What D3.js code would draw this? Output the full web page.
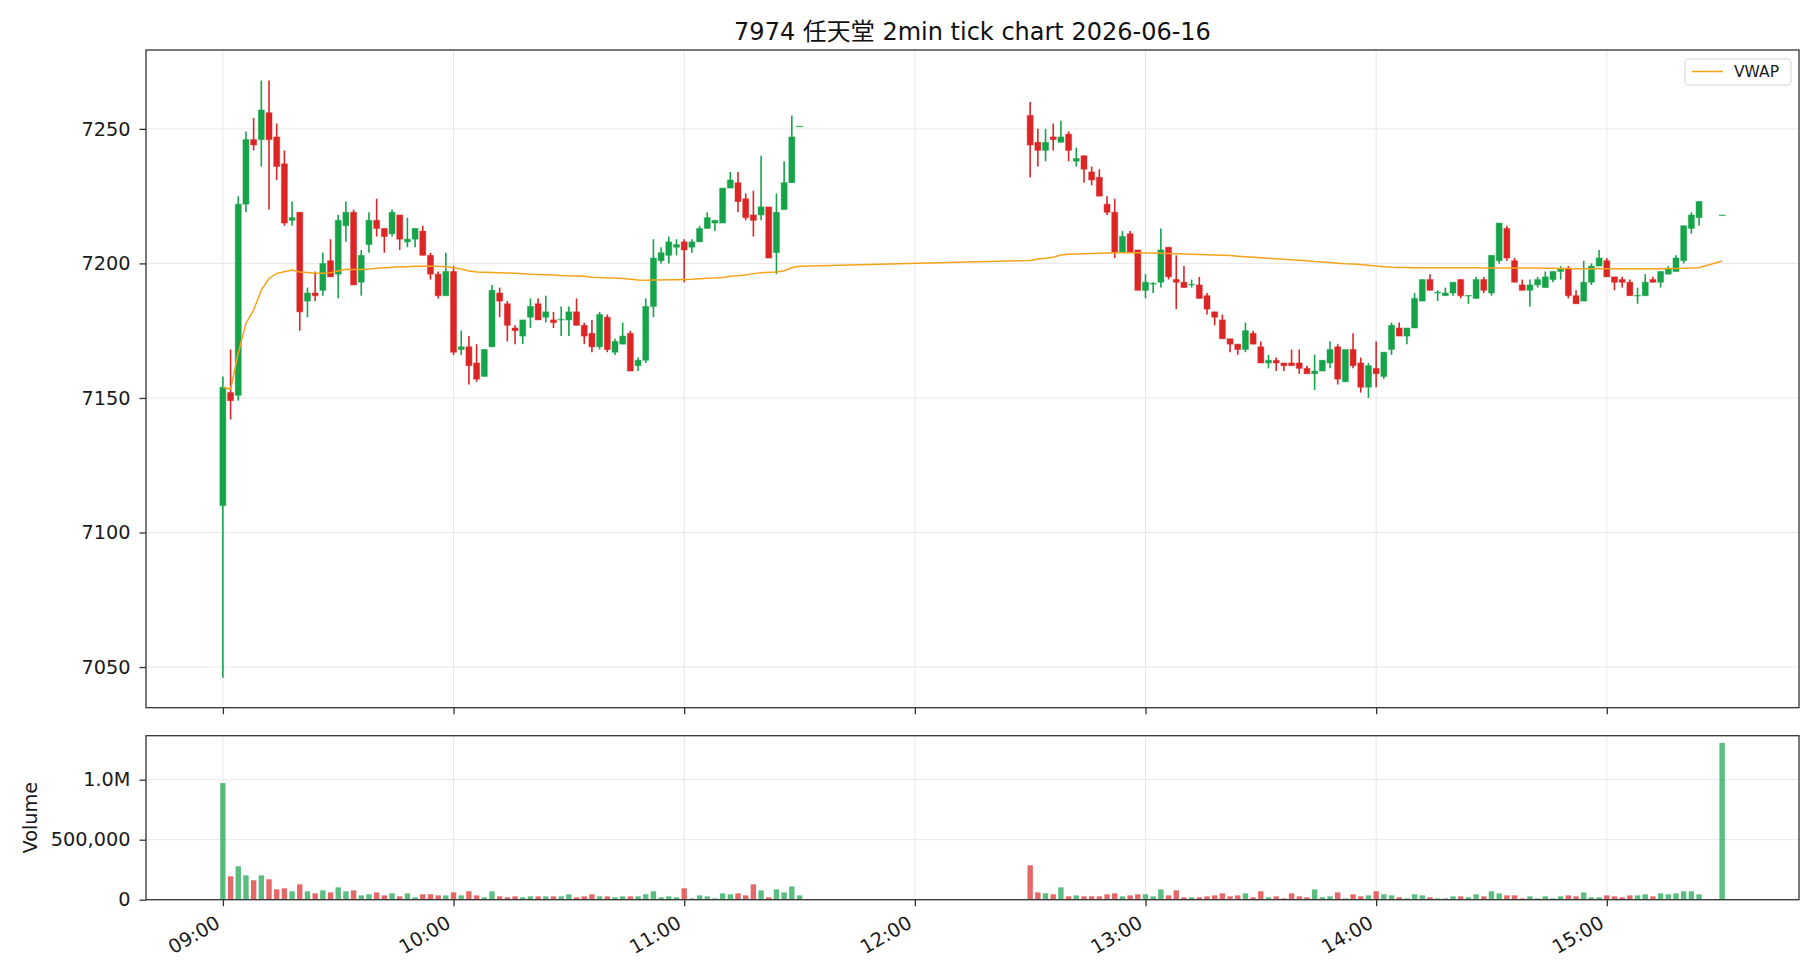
<!DOCTYPE html>
<html><head><meta charset="utf-8">
<script src="https://cdn.jsdelivr.net/npm/d3@7/dist/d3.min.js"></script>
<style>body{margin:0;background:#fff}svg{display:block}</style>
</head><body>
<script>
// ---------------- DATA ----------------
const titleText = "7974 任天堂 2min tick chart 2026-06-16";
const times = [
"09:00","09:02","09:04","09:06","09:08","09:10","09:12","09:14","09:16","09:18",
"09:20","09:22","09:24","09:26","09:28","09:30","09:32","09:34","09:36","09:38",
"09:40","09:42","09:44","09:46","09:48","09:50","09:52","09:54","09:56","09:58",
"10:00","10:02","10:04","10:06","10:08","10:10","10:12","10:14","10:16","10:18",
"10:20","10:22","10:24","10:26","10:28","10:30","10:32","10:34","10:36","10:38",
"10:40","10:42","10:44","10:46","10:48","10:50","10:52","10:54","10:56","10:58",
"11:00","11:02","11:04","11:06","11:08","11:10","11:12","11:14","11:16","11:18",
"11:20","11:22","11:24","11:26","11:28","11:30",
"12:30","12:32","12:34","12:36","12:38","12:40","12:42","12:44","12:46","12:48",
"12:50","12:52","12:54","12:56","12:58","13:00","13:02","13:04","13:06","13:08",
"13:10","13:12","13:14","13:16","13:18","13:20","13:22","13:24","13:26","13:28",
"13:30","13:32","13:34","13:36","13:38","13:40","13:42","13:44","13:46","13:48",
"13:50","13:52","13:54","13:56","13:58","14:00","14:02","14:04","14:06","14:08",
"14:10","14:12","14:14","14:16","14:18","14:20","14:22","14:24","14:26","14:28",
"14:30","14:32","14:34","14:36","14:38","14:40","14:42","14:44","14:46","14:48",
"14:50","14:52","14:54","14:56","14:58","15:00","15:02","15:04","15:06","15:08",
"15:10","15:12","15:14","15:16","15:18","15:20","15:22","15:24","15:30"];

const opens = [
7110,7152,7151,7222,7246,7246,7256,7247,7237,7216,
7219,7186,7189,7190,7201,7196,7214,7219,7193,7207,
7216,7213,7211,7218,7208,7209,7212,7203,7196,7188,
7197,7168,7169,7163,7158,7169,7189,7185,7176,7173,
7180,7185,7180,7179,7179,7179,7182,7177,7174,7169,
7180,7167,7170,7174,7162,7164,7184,7201,7203,7206,
7208,7206,7208,7213,7215,7215,7228,7230,7224,7218,
7218,7221,7204,7220,7230,7251,
7255,7245,7242,7247,7245,7248,7238,7240,7234,7232,
7222,7219,7204,7211,7205,7190,7192.3,7193,7206,7194,
7193,7192,7192,7188,7182,7179,7172,7170,7168,7174,
7169,7163,7164,7163,7163,7163,7161,7159,7160,7163,
7169,7156,7168,7163,7154,7161,7158,7168,7176,7173,
7176,7186,7194,7189,7188,7189,7194,7187.9,7187,7194,
7189,7201,7213,7201,7192,7190,7192,7191,7194,7197,
7198,7188,7186,7193,7199,7201,7195,7194,7193,7187.9,
7188,7194,7193,7196,7197,7201,7213,7217,7218];

const highs = [
7158,7168,7225,7249,7254,7268,7268,7252,7242,7223,
7219,7191,7197,7204,7209,7218,7223,7220,7205,7219,
7224,7213,7220,7218,7217,7213,7214,7204,7197,7204,
7199,7175,7173,7170,7168,7192,7191,7186,7177,7179,
7187,7187,7188,7182,7184,7184,7187,7178,7179,7182,
7181,7172,7178,7175,7165,7187,7209,7206,7210,7209,
7209,7209,7214,7219,7216,7228,7234,7234,7226,7227,
7240,7221,7226,7238,7255,7251,
7260,7250,7250,7252,7253,7249,7243,7240,7236,7235,
7225,7224,7212,7212,7205,7196,7193,7213,7206,7203,
7199,7194,7195,7189,7182,7181,7172,7170,7178,7175,
7171,7166,7165,7163,7168,7168,7162,7166,7164,7171,
7170,7168,7174,7165,7163,7171,7167,7178,7178,7176,
7189,7194,7196,7190,7191,7193,7194,7188,7195,7195,
7203,7215,7214,7202,7194,7194,7195,7197,7197,7199,
7199,7190,7201,7200,7205,7202,7195,7195,7194,7191,
7196,7195,7197,7199,7203,7214,7219,7223,7218];

const lows = [
7046,7142,7149,7219,7242,7236,7220,7231,7214,7214,
7175,7180,7186,7188,7195,7187,7208,7192,7188,7204,
7210,7204,7210,7205,7206,7206,7203,7194,7187,7188,
7166,7166,7155,7156,7158,7169,7180,7171,7170,7170,
7176,7179,7178,7176,7173,7173,7177,7170,7167,7168,
7167,7166,7170,7160,7160,7163,7180,7200,7200,7203,
7193,7204,7208,7213,7212,7215,7228,7219,7216,7210,
7216,7202,7196,7220,7230,7251,
7232,7236,7238,7242,7245,7238,7236,7230,7229,7225,
7218,7202,7204,7204,7190,7187,7189,7191,7194,7183,
7191,7191,7187,7181,7177,7172,7167,7166,7167,7170,
7163,7161,7160,7160,7162,7159,7159,7153,7160,7161,
7155,7156,7161,7152,7150,7154,7157,7166,7173,7170,
7176,7186,7190,7186,7188,7188,7187,7185,7187,7189,
7188,7200,7201,7193,7190,7184,7191,7191,7193,7194,
7187,7185,7186,7192,7199,7195,7190,7191,7188,7185,
7188,7193,7191,7196,7197,7200,7211,7214,7218];

const closes = [
7154,7149,7222,7246,7244,7257,7246,7236,7215,7217,
7182,7189,7188,7200,7195,7216,7219,7192,7203,7216,
7213,7210,7219,7209,7209,7213,7203,7196,7188,7197,
7167,7169,7162,7157,7168,7190,7186,7177,7175,7179,
7184,7179,7182,7178,7179.2,7182,7177,7173,7169,7181,
7168,7171,7173,7160,7164,7184,7202,7204,7208,7207,
7205,7208,7213,7217,7216,7228,7231,7223,7217,7216,
7221,7202,7219,7230,7247,7251,
7244,7242,7245,7246,7247,7242,7239,7235,7231,7225,
7219,7204,7210,7204,7190,7193,7192.6,7205,7195,7193,
7191,7192.2,7187,7183,7180,7172,7170,7168,7175,7170,
7163,7164,7163,7162,7162,7161,7159,7160,7164,7168,
7157,7168,7162,7154,7162,7159,7167,7177,7173,7176,
7187,7194,7190,7189.3,7189,7193,7188,7188.1,7194,7190,
7203,7215,7202,7193,7190,7192,7194,7195,7197,7198,
7188,7185,7193,7199,7202,7195,7193,7193,7188,7188.1,
7193,7193,7197,7198,7202,7214,7218,7223,7218];

const volumes = [
972000,195000,279000,203000,162000,203000,170000,86000,95000,70000,
128000,70000,53000,78000,61000,103000,70000,78000,36000,45000,
61000,36000,53000,28000,53000,20000,45000,45000,36000,36000,
61000,36000,70000,36000,20000,70000,28000,20000,28000,20000,
28000,28000,28000,28000,28000,45000,20000,28000,45000,28000,
28000,20000,28000,28000,28000,45000,70000,20000,28000,20000,
95000,11000,36000,28000,11000,53000,45000,53000,36000,128000,
78000,20000,86000,61000,111000,36000,
287000,61000,53000,45000,103000,28000,36000,28000,28000,28000,
45000,53000,28000,36000,45000,45000,28000,86000,36000,78000,
20000,20000,20000,28000,36000,53000,28000,36000,53000,20000,
70000,20000,28000,11000,53000,28000,20000,86000,20000,28000,
61000,11000,45000,28000,36000,70000,45000,36000,20000,11000,
45000,36000,20000,11000,11000,28000,28000,20000,45000,28000,
70000,53000,36000,36000,11000,28000,11000,28000,11000,28000,
36000,28000,61000,20000,20000,36000,28000,20000,36000,36000,
45000,28000,53000,45000,53000,70000,70000,45000,1307000];

const vwap = [
7154,7153.2,7166.6,7177.7,7182.7,7190.1,7194.4,7196.3,7196.9,7197.5,
7196.8,7196.6,7196.3,7196.3,7196.5,7197.2,7197.8,7197.7,7197.7,7197.9,
7198.2,7198.4,7198.6,7198.8,7198.8,7198.9,7198.9,7198.9,7198.9,7198.8,
7198.4,7197.9,7197.2,7196.8,7196.7,7196.6,7196.5,7196.4,7196.3,7196.2,
7196.0,7195.9,7195.8,7195.7,7195.5,7195.4,7195.3,7195.2,7194.9,7194.8,
7194.6,7194.6,7194.4,7194.1,7193.8,7193.7,7193.8,7193.8,7193.9,7193.9,
7194.0,7194.1,7194.3,7194.5,7194.6,7194.8,7195.2,7195.4,7195.7,7196.2,
7196.5,7196.7,7196.8,7197.3,7198.4,7198.9,
7201.1,7201.6,7201.9,7202.3,7203.1,7203.4,7203.5,7203.6,7203.7,7203.8,
7203.9,7204.0,7204.0,7204.0,7204.0,7203.9,7203.9,7203.8,7203.7,7203.6,
7203.5,7203.4,7203.3,7203.2,7203.1,7203.0,7202.9,7202.7,7202.5,7202.3,
7202.1,7201.9,7201.7,7201.5,7201.4,7201.2,7201.0,7200.7,7200.5,7200.3,
7200.1,7199.9,7199.8,7199.6,7199.3,7199.0,7198.8,7198.6,7198.5,7198.5,
7198.4,7198.4,7198.4,7198.4,7198.4,7198.4,7198.4,7198.4,7198.4,7198.3,
7198.3,7198.3,7198.3,7198.3,7198.3,7198.3,7198.3,7198.2,7198.2,7198.1,
7198.1,7198.0,7198.0,7198.0,7198.0,7198.0,7198.0,7198.0,7198.0,7198.0,
7198.0,7198.0,7198.0,7198.1,7198.1,7198.2,7198.3,7198.4,7200.9];

const priceTicks = [7050, 7100, 7150, 7200, 7250];
const volumeTicks = [0, 500000, 1000000];
const volumeTickLabels = ["0", "500,000", "1.0M"];
const hourTicks = ["09:00","10:00","11:00","12:00","13:00","14:00","15:00"];
const legendLabel = "VWAP";
const volumeLabel = "Volume";

// ---------------- CHART ----------------
const W = 1820, H = 980;
const FONT = "'DejaVu Sans','Noto Sans CJK JP',sans-serif";
const GREEN = "#16a34a", RED = "#dc2626", ORANGE = "#f7a21b";
const L = 146, R = 1799, T1 = 50, B1 = 707.7, T2 = 735.7, B2 = 899.7;

const parseT = s => { const [h, m] = s.split(":").map(Number); return new Date(2026, 5, 16, h, m); };
const rows = times.map((t, i) => ({
  t: parseT(t), o: opens[i], h: highs[i], l: lows[i], c: closes[i], v: volumes[i], w: vwap[i]
}));

const x = d3.scaleTime().domain([parseT("08:40"), parseT("15:50")]).range([L, R]);
const y = d3.scaleLinear().domain([7034.9, 7279.3]).range([B1, T1]);
const yv = d3.scaleLinear().domain([0, 1366700]).range([B2, T2]);
const step = x(parseT("09:02")) - x(parseT("09:00"));
const bw = step * 0.78, vw = step * 0.7;

const svg = d3.select("body").append("svg").attr("width", W).attr("height", H)
  .style("font-family", FONT);

const defs = svg.append("defs");
defs.append("clipPath").attr("id", "c1").append("rect").attr("x", L).attr("y", T1).attr("width", R - L).attr("height", B1 - T1);
defs.append("clipPath").attr("id", "c2").append("rect").attr("x", L).attr("y", T2).attr("width", R - L).attr("height", B2 - T2);

// Title
svg.append("text").attr("x", (L + R) / 2).attr("y", 40).attr("text-anchor", "middle")
  .attr("font-size", 24).attr("fill", "#111").text(titleText);

// Grids
const grid = svg.append("g").attr("stroke", "#e8e8e8").attr("stroke-width", 1);
hourTicks.forEach(h => {
  const xx = x(parseT(h));
  grid.append("line").attr("x1", xx).attr("x2", xx).attr("y1", T1).attr("y2", B1);
  grid.append("line").attr("x1", xx).attr("x2", xx).attr("y1", T2).attr("y2", B2);
});
priceTicks.forEach(p => grid.append("line").attr("x1", L).attr("x2", R).attr("y1", y(p)).attr("y2", y(p)));
volumeTicks.forEach(p => grid.append("line").attr("x1", L).attr("x2", R).attr("y1", yv(p)).attr("y2", yv(p)));

// Candles
const gc = svg.append("g").attr("clip-path", "url(#c1)");
const col = d => d.c >= d.o ? GREEN : RED;
gc.selectAll("line.wick").data(rows).join("line")
  .attr("x1", d => x(d.t)).attr("x2", d => x(d.t))
  .attr("y1", d => y(d.h)).attr("y2", d => y(d.l))
  .attr("stroke", col).attr("stroke-width", 1.6);
gc.selectAll("rect.body").data(rows).join("rect")
  .attr("x", d => x(d.t) - bw / 2)
  .attr("y", d => Math.min(y(d.o), y(d.c)))
  .attr("width", bw)
  .attr("height", d => Math.max(Math.abs(y(d.o) - y(d.c)), 0.6))
  .attr("fill", col).attr("stroke", col).attr("stroke-opacity", 0.45).attr("stroke-width", 1);

// VWAP
gc.append("path").datum(rows)
  .attr("d", d3.line().x(d => x(d.t)).y(d => y(d.w)))
  .attr("fill", "none").attr("stroke", ORANGE).attr("stroke-width", 1.5);

// Volume bars
const gv = svg.append("g").attr("clip-path", "url(#c2)");
gv.selectAll("rect").data(rows).join("rect")
  .attr("x", d => x(d.t) - vw / 2).attr("width", vw)
  .attr("y", d => yv(d.v)).attr("height", d => yv(0) - yv(d.v))
  .attr("fill", col).attr("fill-opacity", 0.7);

// Axes
const axStyle = g => {
  g.selectAll(".domain").remove();
  g.selectAll(".tick line").attr("stroke", "#333").attr("stroke-width", 1.3);
  g.selectAll(".tick text").attr("fill", "#1a1a1a").attr("font-size", 19.3).style("font-family", FONT);
};
svg.append("g").attr("transform", `translate(${L},0)`)
  .call(d3.axisLeft(y).tickValues(priceTicks).tickSize(6.5).tickPadding(9).tickFormat(d3.format("d")))
  .call(axStyle);
svg.append("g").attr("transform", `translate(${L},0)`)
  .call(d3.axisLeft(yv).tickValues(volumeTicks).tickSize(6.5).tickPadding(9)
    .tickFormat((d, i) => volumeTickLabels[i]))
  .call(axStyle);
svg.append("g").attr("transform", `translate(0,${B1})`)
  .call(d3.axisBottom(x).tickValues(hourTicks.map(parseT)).tickSize(6.5).tickFormat(""))
  .call(axStyle);
const xb = svg.append("g").attr("transform", `translate(0,${B2})`)
  .call(d3.axisBottom(x).tickValues(hourTicks.map(parseT)).tickSize(6.5).tickFormat(d3.timeFormat("%H:%M")))
  .call(axStyle);
xb.selectAll(".tick text")
  .attr("text-anchor", "end").attr("dy", null).attr("y", null)
  .attr("transform", "translate(-2,27) rotate(-30)");

// Volume label
svg.append("text").attr("transform", "translate(37,817.7) rotate(-90)")
  .attr("text-anchor", "middle").attr("font-size", 19.3).attr("fill", "#1a1a1a").text(volumeLabel);

// Spines
[[T1, B1], [T2, B2]].forEach(([t, b]) => {
  svg.append("rect").attr("x", L).attr("y", t).attr("width", R - L).attr("height", b - t)
    .attr("fill", "none").attr("stroke", "#333").attr("stroke-width", 1.3);
});

// Legend
const lg = svg.append("g");
lg.append("rect").attr("x", 1685).attr("y", 59).attr("width", 106).attr("height", 26).attr("rx", 3)
  .attr("fill", "#fff").attr("fill-opacity", 0.85).attr("stroke", "#d4d4d4");
lg.append("line").attr("x1", 1692).attr("x2", 1723).attr("y1", 71.5).attr("y2", 71.5)
  .attr("stroke", ORANGE).attr("stroke-width", 1.5);
lg.append("text").attr("x", 1734).attr("y", 77).attr("font-size", 15.5).attr("fill", "#1a1a1a").text(legendLabel);
</script>
</body></html>
